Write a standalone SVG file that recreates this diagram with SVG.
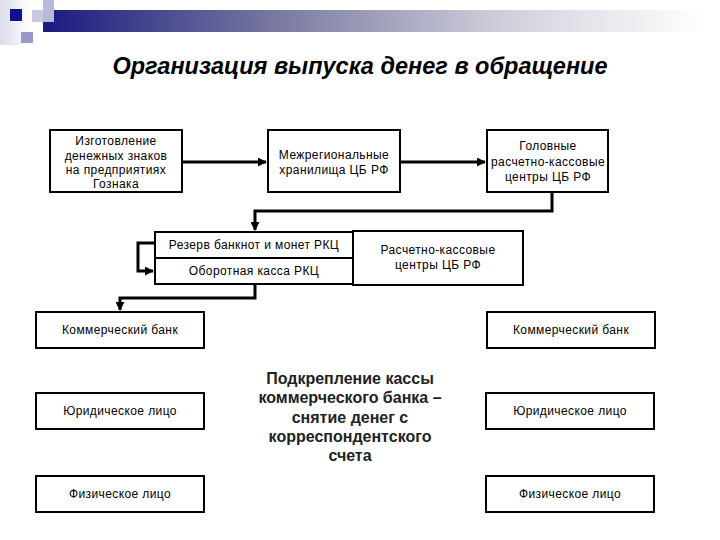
<svg xmlns="http://www.w3.org/2000/svg" width="720" height="540" viewBox="0 0 720 540">
<defs>
<linearGradient id="bar" x1="0" y1="0" x2="1" y2="0">
<stop offset="0" stop-color="#1a1a80"/>
<stop offset="0.35" stop-color="#7878a0"/>
<stop offset="0.7" stop-color="#d0d0dc"/>
<stop offset="1" stop-color="#ffffff"/>
</linearGradient>
<linearGradient id="side" x1="0" y1="0" x2="1" y2="0">
<stop offset="0" stop-color="#dcdcec"/>
<stop offset="1" stop-color="#ffffff"/>
</linearGradient>
<marker id="arr" viewBox="0 0 10 10" refX="9" refY="5" markerWidth="3" markerHeight="3" orient="auto" markerUnits="strokeWidth">
<path d="M0,0 L10,5 L0,10 z" fill="#000"/>
</marker>
<style>
.box{fill:#fff;stroke:#000;stroke-width:2}
.t{font-family:"Liberation Sans",Arial,sans-serif;font-size:12px;letter-spacing:0.4px;fill:#000;text-anchor:middle}
.c{fill:none;stroke:#000;stroke-width:3}
</style>
</defs>
<rect width="720" height="540" fill="#fff"/>
<g id="header">
<rect x="0" y="0" width="30" height="45" fill="url(#side)"/>
<rect x="43" y="10" width="660" height="22" fill="url(#bar)"/>
<rect x="32" y="10" width="22" height="12" fill="#c8c8e0"/>
<rect x="43" y="0" width="11" height="22" fill="#b8b8d8"/>
<rect x="10" y="9" width="12" height="12" fill="#101090"/>
<rect x="21" y="32" width="12" height="11" fill="#9898c8"/>
</g>
<text x="360" y="74" font-family="'Liberation Sans',Arial,sans-serif" font-size="23.5" font-weight="bold" font-style="italic" text-anchor="middle">Организация выпуска денег в обращение</text>
<g id="connectors">
<line class="c" x1="182" y1="162" x2="266" y2="162" marker-end="url(#arr)"/>
<line class="c" x1="400" y1="162" x2="485" y2="162" marker-end="url(#arr)"/>
<polyline class="c" points="552,192 552,211 255,211 255,230" marker-end="url(#arr)"/>
<polyline class="c" points="155,243 138,243 138,271 153,271" marker-end="url(#arr)"/>
<polyline class="c" points="255,284 255,298 120,298 120,310" marker-end="url(#arr)"/>
</g>
<g id="izgotovlenie">
<rect class="box" x="50" y="130" width="132" height="62"/>
<text class="t" x="116" y="145">Изготовление</text>
<text class="t" x="116" y="160">денежных знаков</text>
<text class="t" x="116" y="174">на предприятиях</text>
<text class="t" x="116" y="188">Гознака</text>
</g>
<g id="mezhreg">
<rect class="box" x="268" y="130" width="132" height="62"/>
<text class="t" x="334" y="159">Межрегиональные</text>
<text class="t" x="334" y="174">хранилища ЦБ РФ</text>
</g>
<g id="golovnye">
<rect class="box" x="487" y="130" width="121" height="62"/>
<text class="t" x="548" y="150">Головные</text>
<text class="t" x="548" y="166">расчетно-кассовые</text>
<text class="t" x="548" y="181">центры ЦБ РФ</text>
</g>
<g id="rkc">
<rect class="box" x="155" y="232" width="198" height="52"/>
<line x1="155" y1="258" x2="353" y2="258" stroke="#000" stroke-width="2"/>
<text class="t" x="254" y="249">Резерв банкнот и монет РКЦ</text>
<text class="t" x="254" y="275">Оборотная касса РКЦ</text>
</g>
<g id="rkc-cb">
<rect class="box" x="353" y="231" width="170" height="54"/>
<text class="t" x="438" y="254">Расчетно-кассовые</text>
<text class="t" x="438" y="269">центры ЦБ РФ</text>
</g>
<g id="kb-left">
<rect class="box" x="36" y="312" width="168" height="36"/>
<text class="t" x="120" y="334">Коммерческий банк</text>
</g>
<g id="ul-left">
<rect class="box" x="36" y="393" width="168" height="36"/>
<text class="t" x="120" y="415">Юридическое лицо</text>
</g>
<g id="fl-left">
<rect class="box" x="36" y="476" width="168" height="36"/>
<text class="t" x="120" y="498">Физическое лицо</text>
</g>
<g id="kb-right">
<rect class="box" x="487" y="312" width="168" height="36"/>
<text class="t" x="571" y="334">Коммерческий банк</text>
</g>
<g id="ul-right">
<rect class="box" x="486" y="393" width="168" height="36"/>
<text class="t" x="570" y="415">Юридическое лицо</text>
</g>
<g id="fl-right">
<rect class="box" x="486" y="476" width="168" height="36"/>
<text class="t" x="570" y="498">Физическое лицо</text>
</g>
<g id="note" font-family="'Liberation Sans',Arial,sans-serif" font-size="16" font-weight="bold" fill="#222" text-anchor="middle">
<text x="350" y="384">Подкрепление кассы</text>
<text x="350" y="403">коммерческого банка –</text>
<text x="350" y="423">снятие денег с</text>
<text x="350" y="442">корреспондентского</text>
<text x="350" y="461">счета</text>
</g>
</svg>
